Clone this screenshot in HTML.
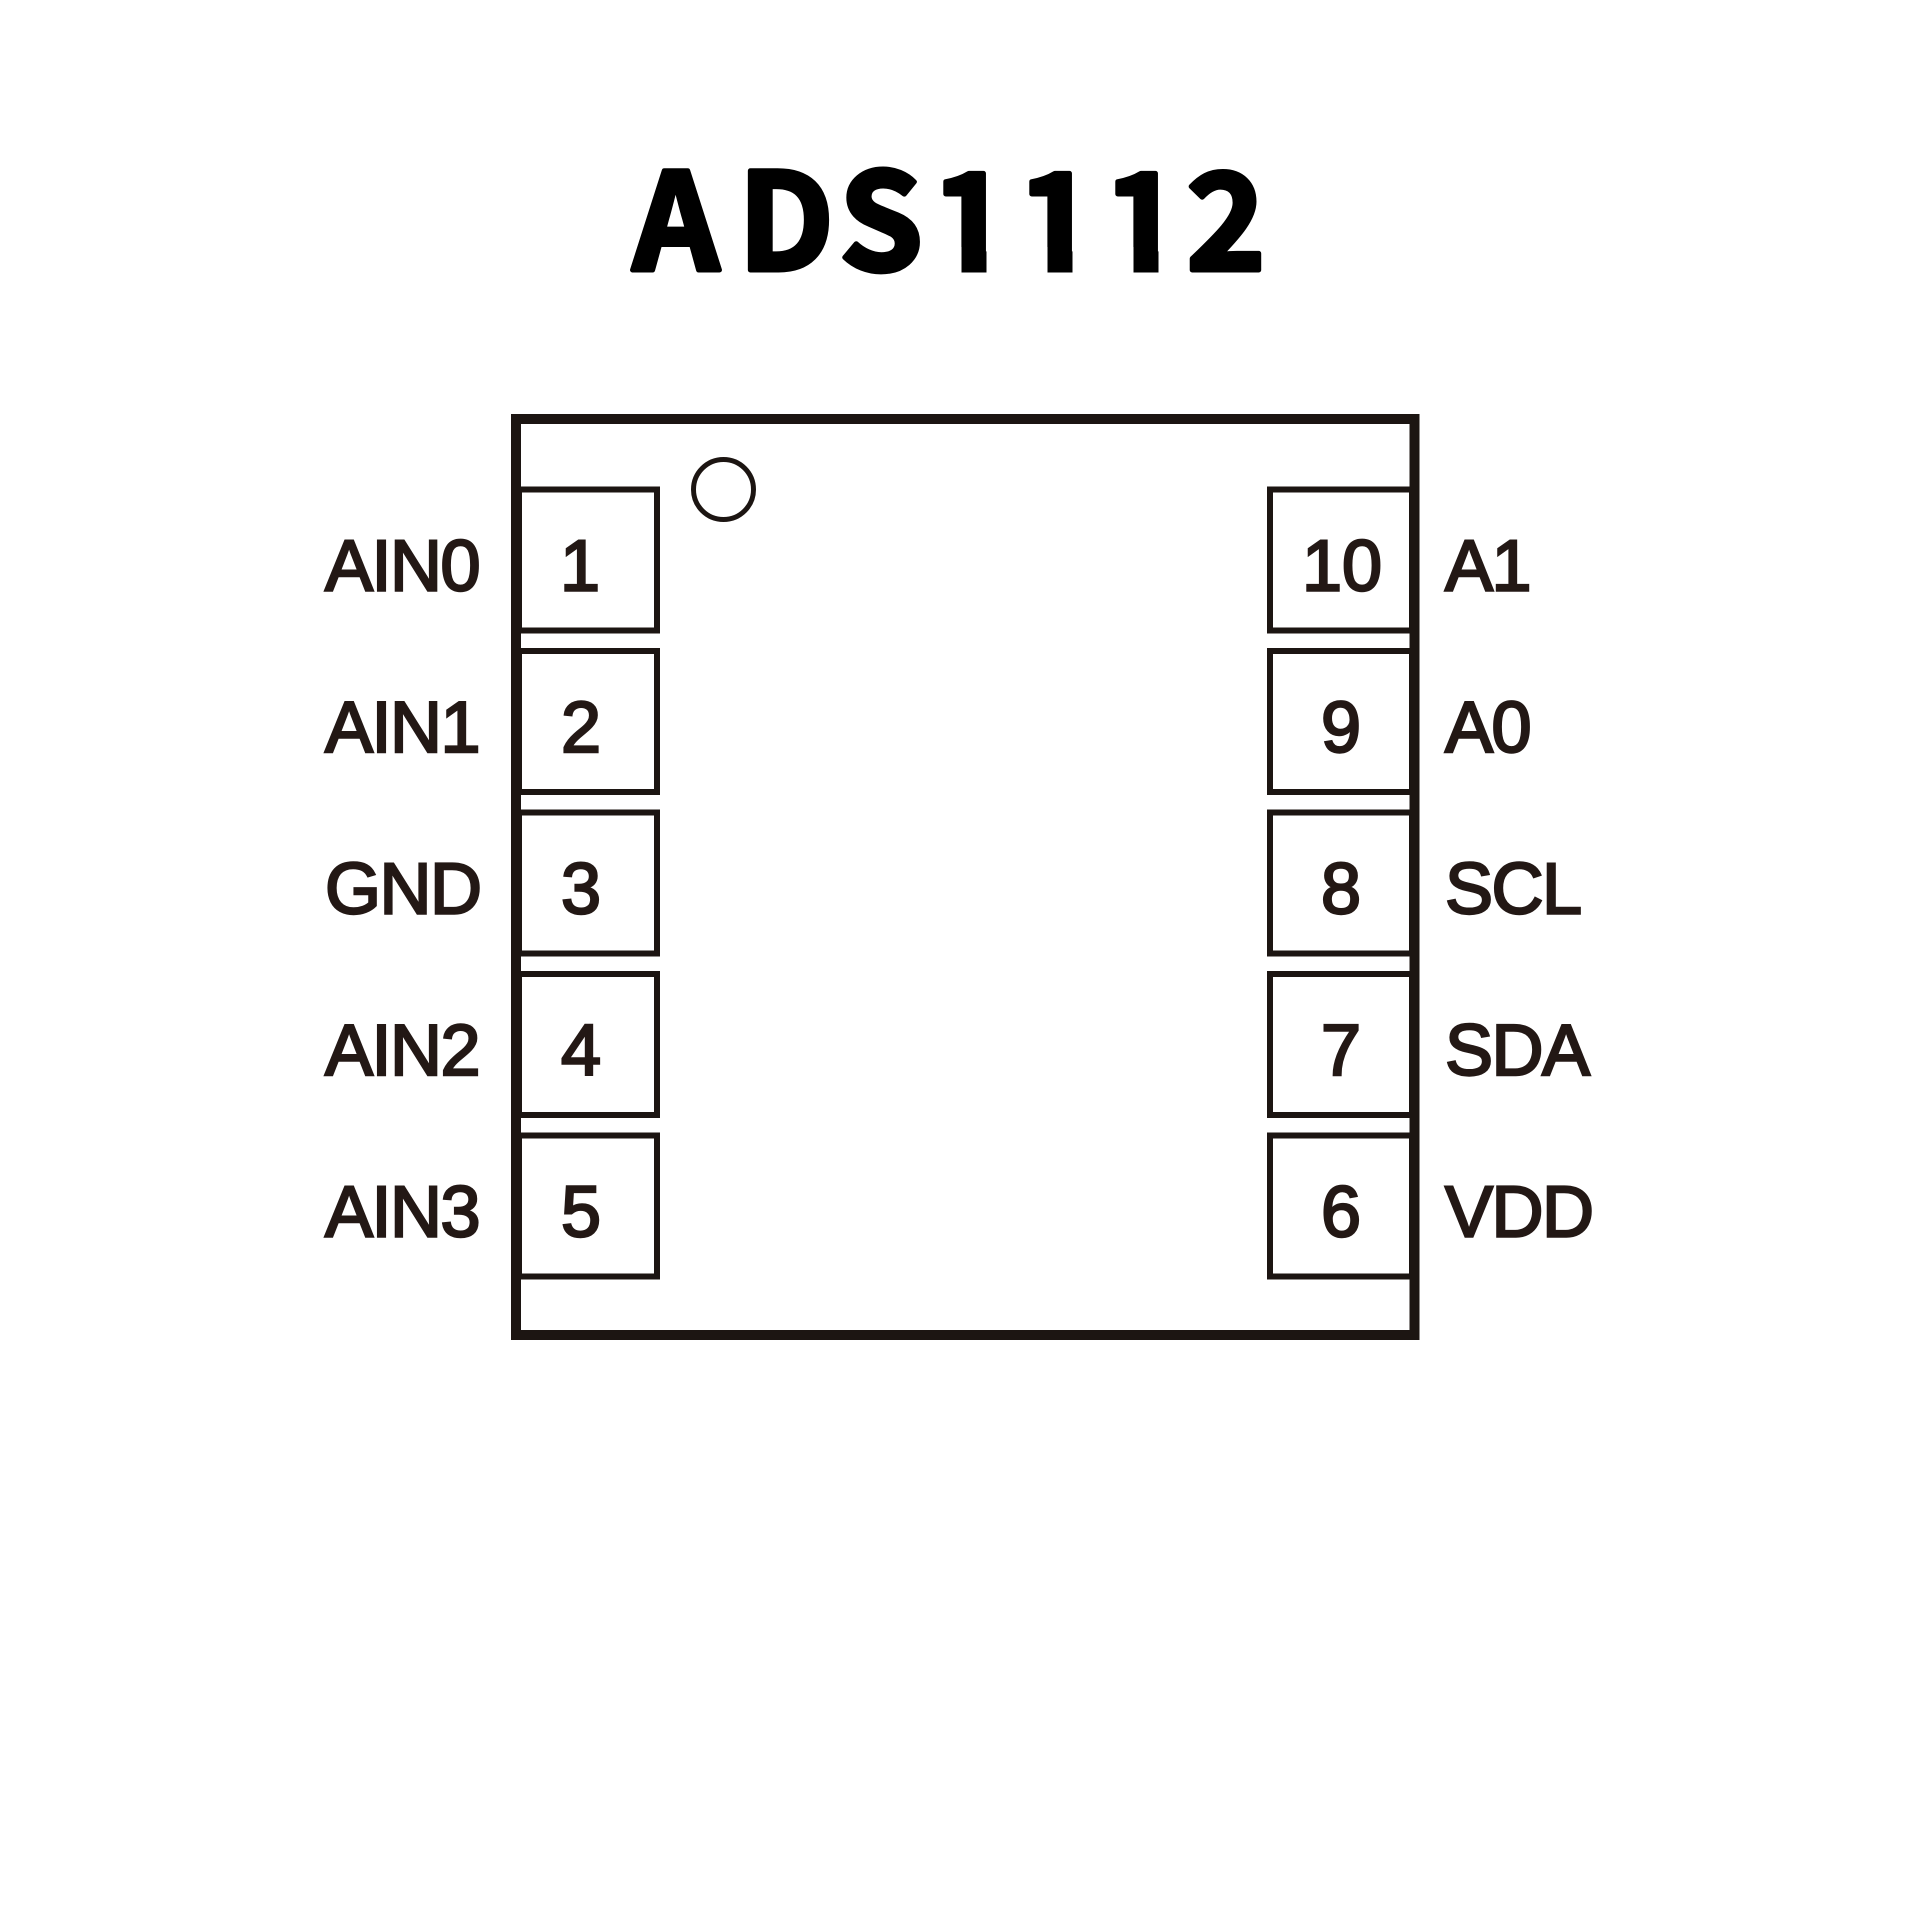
<!DOCTYPE html>
<html>
<head>
<meta charset="utf-8">
<style>
  html, body { margin: 0; padding: 0; background: #ffffff; }
  body { width: 1920px; height: 1920px; overflow: hidden; }
  svg { display: block; }
  .lbl { font-family: "Liberation Sans", Arial, sans-serif; font-size: 72px; fill: #231815; stroke: #231815; stroke-width: 2.4px; letter-spacing: -1.5px; }
  .num { font-family: "Liberation Sans", Arial, sans-serif; font-size: 72px; fill: #231815; stroke: #231815; stroke-width: 2.4px; text-anchor: middle; }
  .ttl { font-family: "Noto Sans CJK SC", "Liberation Sans", sans-serif; font-weight: bold; font-size: 134px; fill: #000; stroke: #000; stroke-width: 5px; stroke-linejoin: round; text-anchor: middle; }
</style>
</head>
<body>
<svg width="1920" height="1920" viewBox="0 0 1920 1920" xmlns="http://www.w3.org/2000/svg">
  <rect x="0" y="0" width="1920" height="1920" fill="#ffffff"/>

  <!-- Title -->
  <text class="ttl" x="676 786 881 971 1057 1143 1226" y="270">ADS1112</text>
  <!-- trim the foot serifs of the "1" glyphs -->
  <g fill="#ffffff">
    <rect x="934" y="247" width="27.5" height="32"/>
    <rect x="986.5" y="247" width="25.5" height="32"/>
    <rect x="1020" y="247" width="27.5" height="32"/>
    <rect x="1072.5" y="247" width="25.5" height="32"/>
    <rect x="1106" y="247" width="27.5" height="32"/>
    <rect x="1158.5" y="247" width="23.5" height="32"/>
  </g>

  <!-- Package outline -->
  <rect x="516" y="419" width="898.5" height="916" fill="none" stroke="#1c1512" stroke-width="10"/>

  <!-- Pin 1 marker -->
  <circle cx="723.5" cy="489.5" r="30" fill="none" stroke="#1c1512" stroke-width="5"/>

  <!-- Left pads -->
  <g fill="none" stroke="#1c1512" stroke-width="6">
    <rect x="519" y="489.5" width="138" height="141"/>
    <rect x="519" y="651" width="138" height="141"/>
    <rect x="519" y="812.5" width="138" height="141"/>
    <rect x="519" y="974" width="138" height="141"/>
    <rect x="519" y="1135.5" width="138" height="141"/>
  </g>

  <!-- Right pads -->
  <g fill="none" stroke="#1c1512" stroke-width="6">
    <rect x="1270" y="489.5" width="142" height="141"/>
    <rect x="1270" y="651" width="142" height="141"/>
    <rect x="1270" y="812.5" width="142" height="141"/>
    <rect x="1270" y="974" width="142" height="141"/>
    <rect x="1270" y="1135.5" width="142" height="141"/>
  </g>

  <!-- Left pin numbers -->
  <text class="num" x="580" y="590.5">1</text>
  <text class="num" x="581" y="752">2</text>
  <text class="num" x="581" y="913.5">3</text>
  <text class="num" x="581" y="1075">4</text>
  <text class="num" x="581" y="1236.5">5</text>

  <!-- Right pin numbers -->
  <text class="num" x="1342" y="590.5">10</text>
  <text class="num" x="1341" y="752">9</text>
  <text class="num" x="1341" y="913.5">8</text>
  <text class="num" x="1341" y="1075">7</text>
  <text class="num" x="1341" y="1236.5">6</text>

  <!-- Left labels -->
  <text class="lbl" x="325" y="590.5">AIN0</text>
  <text class="lbl" x="325" y="752">AIN1</text>
  <text class="lbl" x="325" y="913.5">GND</text>
  <text class="lbl" x="325" y="1075">AIN2</text>
  <text class="lbl" x="325" y="1236.5">AIN3</text>

  <!-- Right labels -->
  <text class="lbl" x="1445" y="590.5">A1</text>
  <text class="lbl" x="1445" y="752">A0</text>
  <text class="lbl" x="1445" y="913.5">SCL</text>
  <text class="lbl" x="1445" y="1075">SDA</text>
  <text class="lbl" x="1445" y="1236.5">VDD</text>
</svg>
</body>
</html>
